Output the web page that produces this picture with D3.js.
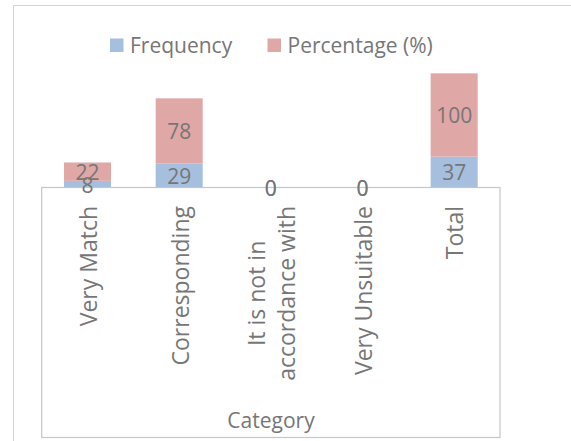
<!DOCTYPE html>
<html lang="en">
<head>
<meta charset="UTF-8">
<title>Frequency and Percentage by Category</title>
<script src="https://d3js.org/d3.v7.min.js"></script>
<style>
  body { margin: 0; background: #fff; }
  text { font-family: "Open Sans", sans-serif; fill: #767676; }
</style>
</head>
<body>
<svg width="571" height="441"></svg>
<script>
// data
const categories = ["Very Match", "Corresponding", "It is not in\naccordance with", "Very Unsuitable", "Total"];
const frequency = [8, 29, 0, 0, 37];
const percentage = [22, 78, 0, 0, 100];
const seriesNames = ["Frequency", "Percentage (%)"];
const axisTitle = "Category";

const colors = ["#a6bfdf", "#e0a7a7"];
const fontSize = 21;
const tickFont = 23;

const svg = d3.select("svg");

// outer chart frame (cut off by the picture on the right)
svg.append("rect")
  .attr("x", 13.5).attr("y", 5.5)
  .attr("width", 620).attr("height", 480)
  .attr("fill", "none").attr("stroke", "#d4d4d4");

const baseY = 187.5;
const x = d3.scaleBand()
  .domain(categories)
  .range([41.7, 500])
  .paddingInner(0.487)
  .paddingOuter(0.2435);

const y = d3.scaleLinear()
  .domain([0, 150])
  .range([baseY, 62.5]);

// stack the two series
const rows = categories.map((c, i) => ({ cat: c, freq: frequency[i], pct: percentage[i] }));
const stacked = d3.stack().keys(["freq", "pct"])(rows);

const layers = svg.append("g").selectAll("g")
  .data(stacked)
  .join("g")
  .attr("fill", (d, i) => colors[i]);

layers.selectAll("rect")
  .data(d => d)
  .join("rect")
  .attr("x", d => x(d.data.cat))
  .attr("width", x.bandwidth())
  .attr("y", d => y(d[1]))
  .attr("height", d => y(d[0]) - y(d[1]));

// box below the baseline holding the category labels
svg.append("rect")
  .attr("x", 41.7).attr("y", baseY)
  .attr("width", 500 - 41.7).attr("height", 250)
  .attr("fill", "#fff").attr("stroke", "#c6c6c6").attr("stroke-width", 1.2);

// data labels
stacked.forEach((layer, k) => {
  svg.append("g").selectAll("text")
    .data(layer)
    .join("text")
    .attr("x", d => x(d.data.cat) + x.bandwidth() / 2)
    .attr("y", d => (y(d[0]) + y(d[1])) / 2)
    .attr("dy", "0.4em")
    .attr("text-anchor", "middle")
    .style("font-size", fontSize + "px")
    .text(d => k === 0 ? d.data.freq : d.data.pct);
});

// category labels, rotated, top end aligned under the axis
const labelTop = 206;
const lineGap = 30;
categories.forEach(c => {
  const lines = c.split("\n");
  const g = svg.append("g");
  const t = g.append("text")
    .attr("text-anchor", "middle")
    .style("font-size", tickFont + "px");
  lines.forEach((ln, j) => {
    t.append("tspan")
      .attr("x", 0)
      .attr("y", (j - (lines.length - 1) / 2) * lineGap)
      .attr("dy", "0.34em")
      .text(ln);
  });
  let maxLen = 0;
  t.selectAll("tspan").each(function() {
    maxLen = Math.max(maxLen, this.getComputedTextLength());
  });
  g.attr("transform", `translate(${x(c) + x.bandwidth() / 2 + 1.5},${labelTop + maxLen / 2}) rotate(-90)`);
});

// axis title
svg.append("text")
  .attr("x", 271).attr("y", 428)
  .attr("text-anchor", "middle")
  .style("font-size", fontSize + "px")
  .text(axisTitle);

// legend
const legendX = [110, 267.5];
const legend = svg.append("g").selectAll("g")
  .data(seriesNames)
  .join("g")
  .attr("transform", (d, i) => `translate(${legendX[i]},38.5)`);
legend.append("rect")
  .attr("width", 13.5).attr("height", 13.5)
  .attr("fill", (d, i) => colors[i]);
legend.append("text")
  .attr("x", 20).attr("y", 14.5)
  .style("font-size", fontSize + "px")
  .text(d => d);
</script>
</body>
</html>
